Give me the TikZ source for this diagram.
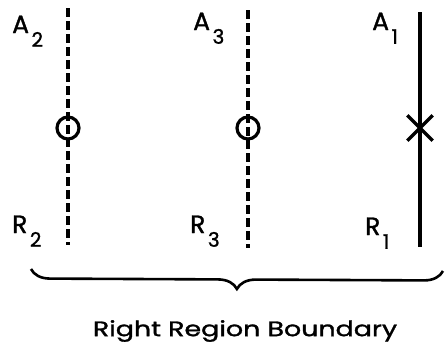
\documentclass[tikz,border=0pt]{standalone}
\usepackage{fontspec}
\setmainfont{Poppins}
\newfontfamily\lblfont{Poppins}[FakeBold=1.3]
\usetikzlibrary{shapes.misc,decorations.pathreplacing}
\newcommand{\sublbl}[2]{#1\kern2.5pt\raisebox{-0.55em}{\fontsize{20}{20}\selectfont #2}}
\tikzset{
  bline/.style ={line width=3.4pt},
  dline/.style ={bline, dash pattern=on 9pt off 4pt},
  lbl/.style   ={font=\lblfont\fontsize{25}{25}\selectfont, inner sep=0pt, anchor=base west},
  ring/.style  ={circle, draw, line width=3.2pt, minimum size=22pt, inner sep=0pt},
  xmark/.style ={cross out, draw, line width=3.4pt, minimum size=22pt, inner sep=0pt},
}
\begin{document}
\begin{tikzpicture}[x=1pt,y=-1pt]
\useasboundingbox (0,0) rectangle (445,346);
% the three lines
\coordinate (top2) at (68,8);   \coordinate (bot2) at (68,245);
\coordinate (top3) at (248,10); \coordinate (bot3) at (248,248);
\coordinate (top1) at (420,12); \coordinate (bot1) at (420,247);
\draw[dline] (top2) -- (bot2);
\draw[dline] (top3) -- (bot3);
\draw[bline] (top1) -- (bot1);
\node[ring]  (o2) at (68,128) {};
\node[ring]  (o3) at (248,128) {};
\node[xmark] (x1) at (420,128) {};
% labels
\node[lbl] (a2) at (12,33)  {\sublbl{A}{2}};
\node[lbl] (a3) at (193,30) {\sublbl{A}{3}};
\node[lbl] (a1) at (372,30) {\sublbl{A}{1}};
\node[lbl] (r2) at (12,233)  {\sublbl{R}{2}};
\node[lbl] (r3) at (190,233) {\sublbl{R}{3}};
\node[lbl] (r1) at (365,235) {\sublbl{R}{1}};
% brace
\coordinate (bl) at (31,269); \coordinate (br) at (443,271);
\draw[line width=2.6pt, decorate, decoration={brace, mirror, amplitude=19pt}] (bl) -- (br);
\node[font=\lblfont\fontsize{21}{21}\selectfont, inner sep=0pt] (cap) at (245,331) {\scalebox{1.28}[1]{Right Region Boundary}};
\end{tikzpicture}
\end{document}
